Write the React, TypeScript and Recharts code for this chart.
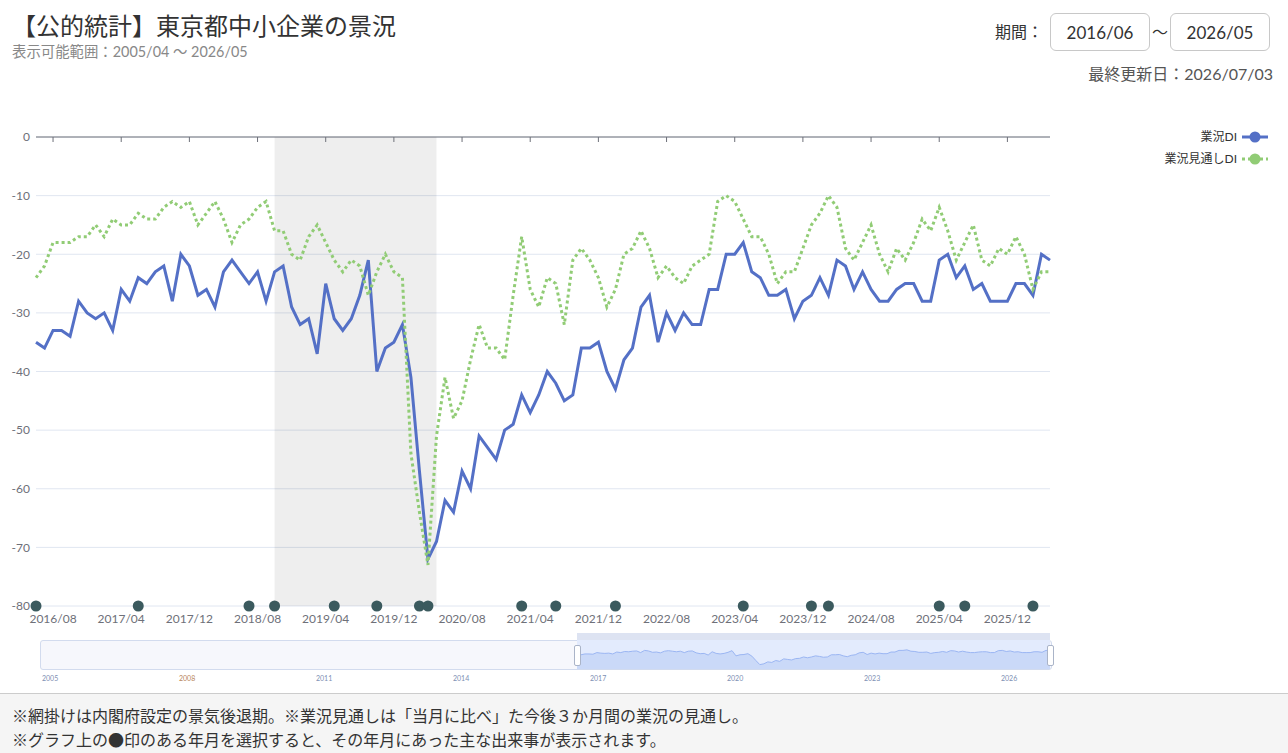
import React from 'react';
import { LineChart, Line, XAxis, YAxis, CartesianGrid, ReferenceArea, AreaChart, Area } from 'recharts';

// month labels 2016/06 .. 2026/05
const months: string[] = [];
for (let i = 0; i < 120; i++) {
  const m = 5 + i;
  const y = 2016 + Math.floor(m / 12);
  months.push(`${y}/${String((m % 12) + 1).padStart(2, '0')}`);
}

const businessDI = [
  -35, -36, -33, -33, -34, -28, -30, -31, -30, -33,
  -26, -28, -24, -25, -23, -22, -28, -20, -22, -27,
  -26, -29, -23, -21, -23, -25, -23, -28, -23, -22,
  -29, -32, -31, -37, -25, -31, -33, -31, -27, -21,
  -40, -36, -35, -32, -41, -57, -72, -69, -62, -64,
  -57, -60, -51, -53, -55, -50, -49, -44, -47, -44,
  -40, -42, -45, -44, -36, -36, -35, -40, -43, -38,
  -36, -29, -27, -35, -30, -33, -30, -32, -32, -26,
  -26, -20, -20, -18, -23, -24, -27, -27, -26, -31,
  -28, -27, -24, -27, -21, -22, -26, -23, -26, -28,
  -28, -26, -25, -25, -28, -28, -21, -20, -24, -22,
  -26, -25, -28, -28, -28, -25, -25, -27, -20, -21,
];

const outlookDI = [
  -24, -22, -18, -18, -18, -17, -17, -15, -17, -14,
  -15, -15, -13, -14, -14, -12, -11, -12, -11, -15,
  -13, -11, -14, -18, -15, -14, -12, -11, -16, -16,
  -20, -21, -17, -15, -18, -21, -23, -21, -22, -27,
  -23, -20, -23, -24, -54, -64, -73, -51, -41, -48,
  -45, -38, -32, -36, -36, -38, -27, -17, -26, -29,
  -24, -25, -32, -21, -19, -21, -24, -29, -26, -20,
  -19, -16, -19, -24, -22, -24, -25, -22, -21, -20,
  -11, -10, -11, -14, -17, -17, -20, -25, -23, -23,
  -19, -15, -13, -10, -12, -19, -21, -18, -15, -20,
  -23, -19, -21, -18, -14, -16, -12, -16, -21, -18,
  -15, -21, -22, -19, -20, -17, -20, -26, -23, -23,
];

const eventMonths = [
  '2016/06', '2017/06', '2018/07', '2018/10', '2019/05', '2019/10', '2020/03', '2020/04',
  '2021/03', '2021/07', '2022/02', '2023/05', '2024/01', '2024/03', '2025/04', '2025/07', '2026/03',
];

const xTicks = [
  '2016/08', '2017/04', '2017/12', '2018/08', '2019/04', '2019/12', '2020/08', '2021/04',
  '2021/12', '2022/08', '2023/04', '2023/12', '2024/08', '2025/04', '2025/12',
];
const yTicks = [0, -10, -20, -30, -40, -50, -60, -70, -80];
const recession = ['2018/10', '2020/05'];
const sliderYears = ['2005', '2008', '2011', '2014', '2017', '2020', '2023', '2026'];

const rows = months.map((month, i) => ({
  month,
  biz: businessDI[i],
  outlook: outlookDI[i],
  event: eventMonths.includes(month) ? -80 : null,
}));

const BLUE = '#5470c6';
const GREEN = '#91cc75';
const AXIS = '#6e7079';

const box: React.CSSProperties = {
  position: 'absolute', top: 13, width: 98, height: 36, border: '1px solid #c8c8c8', borderRadius: 6,
  fontSize: 17, color: '#333', display: 'flex', alignItems: 'center', justifyContent: 'center',
};

export default function App() {
  return (
    <div style={{ position: 'absolute', left: 0, top: 0, width: 1288, height: 753, overflow: 'hidden', background: '#fff', fontFamily: "Lato, 'Noto Sans CJK JP', sans-serif" }}>
      <div style={{ position: 'absolute', left: 12, top: 9, fontSize: 24, color: '#333', lineHeight: '32px', fontFamily: "'Noto Sans CJK JP', sans-serif" }}>【公的統計】東京都中小企業の景況</div>
      <div style={{ position: 'absolute', left: 12, top: 43, fontSize: 14.4, color: '#888', lineHeight: '18px' }}>表示可能範囲：2005/04 ～ 2026/05</div>

      <div style={{ position: 'absolute', left: 995, top: 21, fontSize: 16, color: '#333', lineHeight: '22px' }}>期間：</div>
      <div style={{ ...box, left: 1050 }}>2016/06</div>
      <div style={{ position: 'absolute', left: 1152, top: 21, fontSize: 16, color: '#333', lineHeight: '22px' }}>～</div>
      <div style={{ ...box, left: 1170 }}>2026/05</div>
      <div style={{ position: 'absolute', right: 15, top: 63, fontSize: 16, color: '#555', lineHeight: '22px' }}>最終更新日：2026/07/03</div>

      <LineChart width={1288} height={640} data={rows} margin={{ top: 137, right: 238, bottom: 4, left: 0 }} style={{ position: 'absolute', left: 0, top: 0 }}>
        <CartesianGrid vertical={false} stroke="#e0e6f1" yAxisId="y" xAxisId="bottom" />
        <ReferenceArea x1={recession[0]} x2={recession[1]} xAxisId="bottom" yAxisId="y" fill="#000" fillOpacity={0.068} stroke="none" />
        <XAxis xAxisId="bottom" dataKey="month" ticks={xTicks} interval={0} axisLine={false} tickLine={false} height={30}
          tick={{ fill: AXIS, fontSize: 12 }} />
        <XAxis xAxisId="top" dataKey="month" orientation="top" mirror height={1} ticks={xTicks} interval={0}
          tick={() => <g />} axisLine={{ stroke: AXIS }} tickLine={{ stroke: AXIS }} tickSize={5} />
        <YAxis yAxisId="y" domain={[-80, 0]} ticks={yTicks} width={36} axisLine={false} tickLine={false} tickSize={5} tickMargin={1}
          tick={{ fill: AXIS, fontSize: 12 }} />
        <Line xAxisId="bottom" yAxisId="y" dataKey="biz" stroke={BLUE} strokeWidth={3} dot={false} activeDot={false} isAnimationActive={false} />
        <Line xAxisId="bottom" yAxisId="y" dataKey="outlook" stroke={GREEN} strokeWidth={3} strokeDasharray="3 3" dot={false} activeDot={false} isAnimationActive={false} />
        <Line xAxisId="bottom" yAxisId="y" dataKey="event" stroke="none" dot={{ r: 5.5, fill: '#3b5a5e', stroke: 'none' }} activeDot={false} isAnimationActive={false} />
      </LineChart>

      {/* legend */}
      <div style={{ position: 'absolute', right: 51, top: 129, fontSize: 12, color: '#333', lineHeight: '16px' }}>業況DI</div>
      <svg style={{ position: 'absolute', left: 1242, top: 130 }} width={26} height={14}>
        <line x1={0} x2={26} y1={7} y2={7} stroke={BLUE} strokeWidth={3} />
        <circle cx={13} cy={7} r={5.5} fill={BLUE} />
      </svg>
      <div style={{ position: 'absolute', right: 51, top: 151, fontSize: 12, color: '#333', lineHeight: '16px' }}>業況見通しDI</div>
      <svg style={{ position: 'absolute', left: 1242, top: 152 }} width={26} height={14}>
        <line x1={0} x2={26} y1={7} y2={7} stroke={GREEN} strokeWidth={3} strokeDasharray="3 3" />
        <circle cx={13} cy={7} r={5.5} fill={GREEN} />
      </svg>

      {/* data zoom slider */}
      <div style={{ position: 'absolute', left: 40, top: 640, width: 1010, height: 28, border: '1px solid #d2dbee', borderRadius: 3, background: '#f6f7fc' }} />
      <div style={{ position: 'absolute', left: 577, top: 633, width: 473, height: 7, background: '#dde3f2' }} />
      <div style={{ position: 'absolute', left: 577, top: 640, width: 473, height: 29, background: '#e3ebfd' }} />
      <AreaChart width={473} height={29} data={rows} margin={{ top: 0, right: 0, bottom: 0, left: 0 }} style={{ position: 'absolute', left: 577, top: 640 }}>
        <XAxis dataKey="month" hide />
        <YAxis domain={[-88, 18]} hide />
        <Area dataKey="biz" baseValue="dataMin" stroke="#9bb6f3" strokeWidth={1} fill="#cad9f8" fillOpacity={1} dot={false} activeDot={false} isAnimationActive={false} />
      </AreaChart>
      <div style={{ position: 'absolute', left: 574, top: 645, width: 5, height: 19, border: '1px solid #aab4c8', borderRadius: 2, background: '#fff' }} />
      <div style={{ position: 'absolute', left: 1047, top: 645, width: 5, height: 19, border: '1px solid #aab4c8', borderRadius: 2, background: '#fff' }} />
      {sliderYears.map((yr, i) => (
        <div key={yr} style={{ position: 'absolute', left: 42 + i * 137, top: 674, fontSize: 7, color: i === 1 ? '#b8865a' : '#7d8fb3', lineHeight: '8px' }}>{yr}</div>
      ))}

      {/* footer */}
      <div style={{ position: 'absolute', left: 0, top: 693, width: 1288, height: 60, background: '#f5f5f5', borderTop: '1px solid #ccc', fontSize: 16, color: '#333', fontFamily: "'Noto Sans CJK JP', sans-serif" }}>
        <div style={{ position: 'absolute', left: 12, top: 9, lineHeight: '24px' }}>※網掛けは内閣府設定の景気後退期。※業況見通しは「当月に比べ」た今後３か月間の業況の見通し。</div>
        <div style={{ position: 'absolute', left: 12, top: 33, lineHeight: '24px' }}>※グラフ上の●印のある年月を選択すると、その年月にあった主な出来事が表示されます。</div>
      </div>
    </div>
  );
}
